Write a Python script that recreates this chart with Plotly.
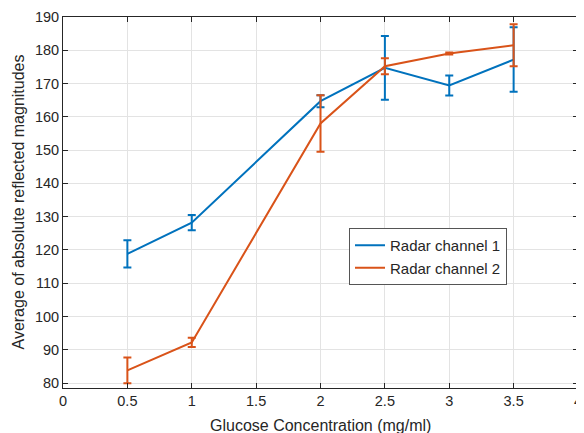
import plotly.graph_objects as go

conc = [0.5, 1, 2, 2.5, 3, 3.5]
ch1_mean = [118.8, 128.2, 164.7, 174.7, 169.4, 177.2]
ch1_err = [4.1, 2.3, 1.8, 9.6, 3.0, 9.7]
ch2_mean = [83.8, 92.2, 158.0, 175.2, 179.0, 181.5]
ch2_err = [3.9, 1.4, 8.5, 2.4, 0.3, 6.3]
series_names = ["Radar channel 1", "Radar channel 2"]
x_ticks = [0, 0.5, 1, 1.5, 2, 2.5, 3, 3.5, 4]
x_title = "Glucose Concentration (mg/ml)"
y_title = "Average of absolute reflected magnitudes"

BLUE = "#0072BD"
ORANGE = "#D95319"
AX = "#262626"
FONT = "Liberation Sans, Arial, sans-serif"

# page body has an 8px margin; place the plot box accordingly
W, H = 584, 433
L, T = 55, 9
PW, PH = 515, 371
R, B = W - L - PW, H - T - PH

fig = go.Figure()
for name, y, e, c in [(series_names[0], ch1_mean, ch1_err, BLUE),
                      (series_names[1], ch2_mean, ch2_err, ORANGE)]:
    fig.add_trace(go.Scatter(
        x=conc, y=y, mode="lines", name=name,
        line=dict(color=c, width=2),
        error_y=dict(type="data", array=e, visible=True, color=c,
                     thickness=2, width=4),
    ))

axis_common = dict(
    showline=True, linecolor=AX, linewidth=1, mirror="ticks",
    ticks="inside", ticklen=5, tickcolor=AX, tickwidth=1,
    showgrid=True, gridcolor="#e3e3e3", gridwidth=1, zeroline=False,
    tickfont=dict(family=FONT, size=14.5, color=AX),
    automargin=False,
)

fig.update_xaxes(range=[0, 4], tickvals=x_ticks,
                 ticktext=[f"{v:g}" for v in x_ticks], **axis_common)
fig.update_yaxes(range=[78.5, 190], tick0=80, dtick=10, **axis_common)

fig.add_annotation(text=x_title, xref="paper", yref="paper",
                   x=0.5, y=-(417 - (T + PH)) / PH, xanchor="center",
                   yanchor="middle", showarrow=False,
                   font=dict(family=FONT, size=16, color=AX))
fig.add_annotation(text=y_title, xref="paper", yref="paper",
                   x=(10 - L) / PW, y=0.5, xanchor="center",
                   yanchor="middle", textangle=-90, showarrow=False,
                   font=dict(family=FONT, size=16, color=AX))

fig.update_layout(
    width=W, height=H,
    margin=dict(l=L, r=R, t=T, b=B),
    paper_bgcolor="white", plot_bgcolor="white",
    font=dict(family=FONT, color=AX),
    legend=dict(x=(349 - 8 - L) / PW, y=1 - (228 - 8 - T) / PH,
                xanchor="left", yanchor="top",
                bgcolor="white", bordercolor="#555555", borderwidth=1,
                font=dict(family=FONT, size=15, color=AX),
                tracegroupgap=0, itemwidth=30),
    showlegend=True,
)

fig.write_html("out.html")
